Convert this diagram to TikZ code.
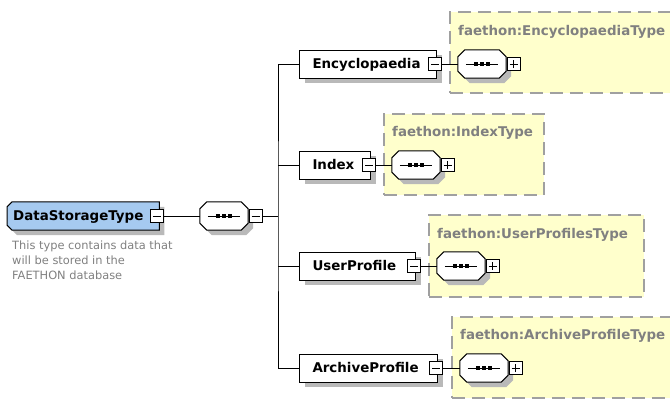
\documentclass[tikz,border=0pt]{standalone}
\usepackage{fontspec}
\usetikzlibrary{shadows}
\newfontfamily\dvs{DejaVu Sans}
\definecolor{rootblue}{RGB}{166,202,240}
\definecolor{typeyellow}{RGB}{255,255,204}
\definecolor{dashgray}{RGB}{160,160,160}
\definecolor{labelgray}{RGB}{128,128,128}
\definecolor{shadowgray}{RGB}{185,185,185}
\pgfdeclarelayer{bg}
\pgfsetlayers{bg,main}
% octagon outline around a node: node, chamfer, dx, dy
\newcommand\octpath[4]{([shift={(#3+#2,#4)}]#1.north west) -- ([shift={(#3-#2,#4)}]#1.north east) -- ([shift={(#3,#4-#2)}]#1.north east) -- ([shift={(#3,#4+#2)}]#1.south east) -- ([shift={(#3-#2,#4)}]#1.south east) -- ([shift={(#3+#2,#4)}]#1.south west) -- ([shift={(#3,#4+#2)}]#1.south west) -- ([shift={(#3,#4-#2)}]#1.north west) -- cycle}
% left-chamfered outline: node, chamfer, dx, dy
\newcommand\lchampath[4]{([shift={(#3+#2,#4)}]#1.north west) -- ([shift={(#3,#4)}]#1.north east) -- ([shift={(#3,#4)}]#1.south east) -- ([shift={(#3+#2,#4)}]#1.south west) -- ([shift={(#3,#4+#2)}]#1.south west) -- ([shift={(#3,#4-#2)}]#1.north west) -- cycle}
\newcommand\seqdraw[1]{%
  \fill[shadowgray] \octpath{#1}{7pt}{5pt}{-5pt};
  \draw[line width=1pt, fill=white] \octpath{#1}{7pt}{0pt}{0pt};
  \draw[line width=1pt] ([xshift=8pt]#1.west) -- ([xshift=-8pt]#1.east);
  \foreach \dx in {-6,0,6} \fill ([xshift=\dx pt]#1.center) +(-1.8pt,-1.8pt) rectangle +(1.8pt,1.8pt);
}
\tikzset{
  conn/.style={line width=1pt, black},
  shad/.style={drop shadow={shadow xshift=5pt, shadow yshift=-5pt, fill=shadowgray, opacity=1}},
  boldfont/.style={font=\dvs\bfseries\fontsize{13.4}{15}\selectfont},
  elembox/.style={draw=black, line width=1pt, fill=white, shad, boldfont, anchor=west,
    minimum height=28pt, inner xsep=13pt, inner ysep=0pt, align=left, text height=9.7pt, text depth=0pt},
  rootbox/.style={boldfont, anchor=west,
    minimum height=28pt, minimum width=152pt, inner xsep=6pt, inner ysep=0pt, text width=140pt, align=left,
    text height=9.7pt, text depth=0pt},
  seqbox/.style={minimum width=48pt, minimum height=28pt, inner sep=0pt},
  pmbox/.style={draw=black, line width=1pt, fill=white, minimum size=13pt, inner sep=0pt},
  minusbox/.style={pmbox, path picture={
      \draw[line width=1pt] ([xshift=-4pt]path picture bounding box.center) -- ([xshift=4pt]path picture bounding box.center);}},
  plusbox/.style={pmbox, path picture={
      \draw[line width=1pt] ([xshift=-4pt]path picture bounding box.center) -- ([xshift=4pt]path picture bounding box.center);
      \draw[line width=1pt] ([yshift=-4pt]path picture bounding box.center) -- ([yshift=4pt]path picture bounding box.center);}},
  typebox/.style={draw=dashgray, fill=typeyellow, line width=1.5pt, dash pattern=on 13pt off 7pt, anchor=north west, inner sep=0pt},
  typelabel/.style={boldfont, text=labelgray, anchor=base west, inner sep=0pt},
  desc/.style={font=\dvs\fontsize{11.4}{15}\selectfont, text=labelgray, align=left, anchor=north west, inner sep=0pt},
}
\begin{document}
\begin{tikzpicture}[x=1pt,y=-1pt]
\useasboundingbox (0,0) rectangle (670,399);
\clip (0,0) rectangle (670,399);

% type boxes
\node[typebox, minimum width=250pt, minimum height=81pt] (tenc) at (449,11) {};
\node[typebox, minimum width=160pt, minimum height=81pt] (tidx) at (383,113) {};
\node[typebox, minimum width=215pt, minimum height=82pt] (tusr) at (428,214) {};
\node[typebox, minimum width=250pt, minimum height=81pt] (tarc) at (451,316) {};
\node[typelabel] (lenc) at (458,35) {faethon:EncyclopaediaType};
\node[typelabel] (lidx) at (392,136) {faethon:IndexType};
\node[typelabel] (lusr) at (437,238) {faethon:UserProfilesType};
\node[typelabel] (larc) at (460,339) {faethon:ArchiveProfileType};

% root
\node[rootbox] (root) at (7,216) {DataStorageType};
\begin{pgfonlayer}{bg}
  \fill[shadowgray] \lchampath{root}{5pt}{5pt}{-5pt};
  \draw[line width=1pt, fill=rootblue] \lchampath{root}{5pt}{0pt}{0pt};
\end{pgfonlayer}
\node[minusbox] (rootm) at (156.5,216) {};
\node[desc] (rootdesc) at (12,240.5) {This type contains data that\\will be stored in the\\FAETHON database};
\node[seqbox] (seq) at (224,216) {};
\seqdraw{seq}
\node[minusbox] (seqm) at (255.5,216) {};
\coordinate (tj) at (278,216);

% elements
\node[elembox, minimum width=137pt, text width=111pt] (enc) at (299,64) {Encyclopaedia};
\node[minusbox] (encm) at (435,64) {};
\node[seqbox] (encs) at (482,64) {};
\seqdraw{encs}
\node[plusbox] (encp) at (513.5,64) {};

\node[elembox, minimum width=71pt, text width=45pt] (idx) at (299,165) {Index};
\node[minusbox] (idxm) at (369,165) {};
\node[seqbox] (idxs) at (416,165) {};
\seqdraw{idxs}
\node[plusbox] (idxp) at (447.5,165) {};

\node[elembox, minimum width=116pt, text width=90pt] (usr) at (299,266) {UserProfile};
\node[minusbox] (usrm) at (414,266) {};
\node[seqbox] (usrs) at (461,266) {};
\seqdraw{usrs}
\node[plusbox] (usrp) at (492.5,266) {};

\node[elembox, minimum width=138pt, text width=112pt] (arc) at (299,368) {ArchiveProfile};
\node[minusbox] (arcm) at (436,368) {};
\node[seqbox] (arcs) at (484,368) {};
\seqdraw{arcs}
\node[plusbox] (arcp) at (515.5,368) {};

% connectors
\draw[conn] (rootm.east) -- (seq.west);
\draw[conn] (seqm.east) -- (tj);
\draw[conn] (enc.west) -| (tj) |- (arc.west);
\draw[conn] (idx.west) -- (idx.west -| tj);
\draw[conn] (usr.west) -- (usr.west -| tj);
\draw[conn] (encm.east) -- (encs.west);
\draw[conn] (idxm.east) -- (idxs.west);
\draw[conn] (usrm.east) -- (usrs.west);
\draw[conn] (arcm.east) -- (arcs.west);
\end{tikzpicture}
\end{document}
